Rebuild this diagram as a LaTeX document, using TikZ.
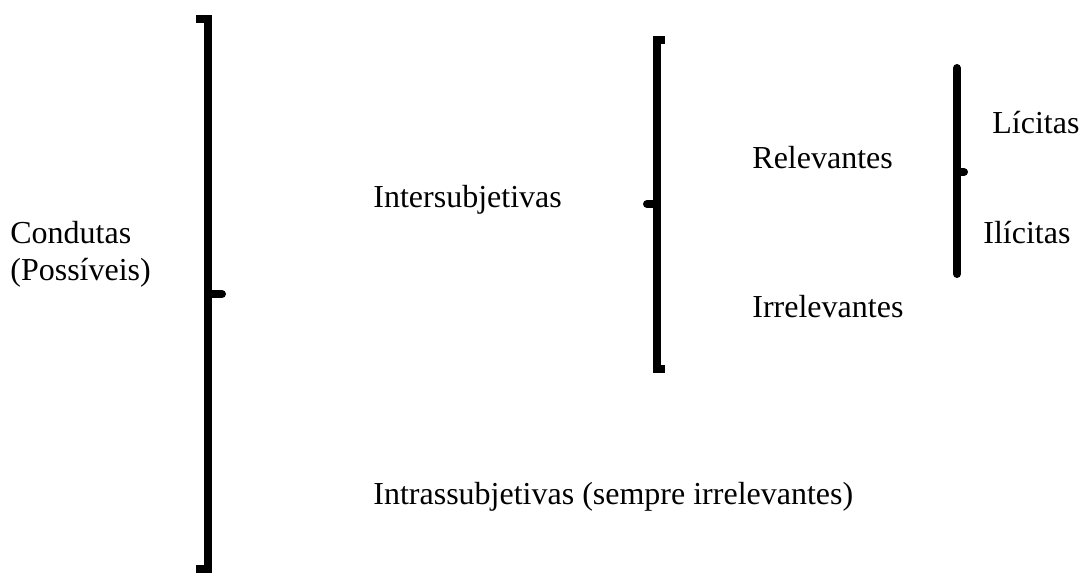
\documentclass[tikz,border=0pt]{standalone}
\usepackage{fontspec}
\setmainfont{Liberation Serif}
\begin{document}
\begin{tikzpicture}[x=0.5pt, y=-0.5pt,
    brk/.style={line width=4pt, line join=miter},
    nub/.style={line width=4pt, line cap=round},
    lbl/.style={anchor=base west, inner sep=0pt, font=\fontsize{16}{18.5}\selectfont, align=left}]
        \useasboundingbox (0,0) rectangle (1080,574);
        % labels
        \node[lbl] (condutas) at (10,280) {Condutas\\(Possíveis)};
        \node[lbl] (inter) at (373,207) {Intersubjetivas};
        \node[lbl] (intra) at (373,504) {Intrassubjetivas (sempre irrelevantes)};
        \node[lbl] (relev) at (752,168) {Relevantes};
        \node[lbl] (irrelev) at (752,317) {Irrelevantes};
        \node[lbl] (licitas) at (992,133) {Lícitas};
        \node[lbl] (ilicitas) at (983,243) {Ilícitas};
        % brackets
        \draw[brk] (196,19) -- (208,19) -- (208,569) -- (196,569);
        \draw[nub] (208,294) -- (222,294);
        \draw[brk] (665,40) -- (657,40) -- (657,369) -- (665,369);
        \draw[nub] (657,204) -- (647,204);
        \draw[nub] (957,68) -- (957,274);
        \draw[nub] (957,172) -- (964,172);
\end{tikzpicture}
\end{document}
